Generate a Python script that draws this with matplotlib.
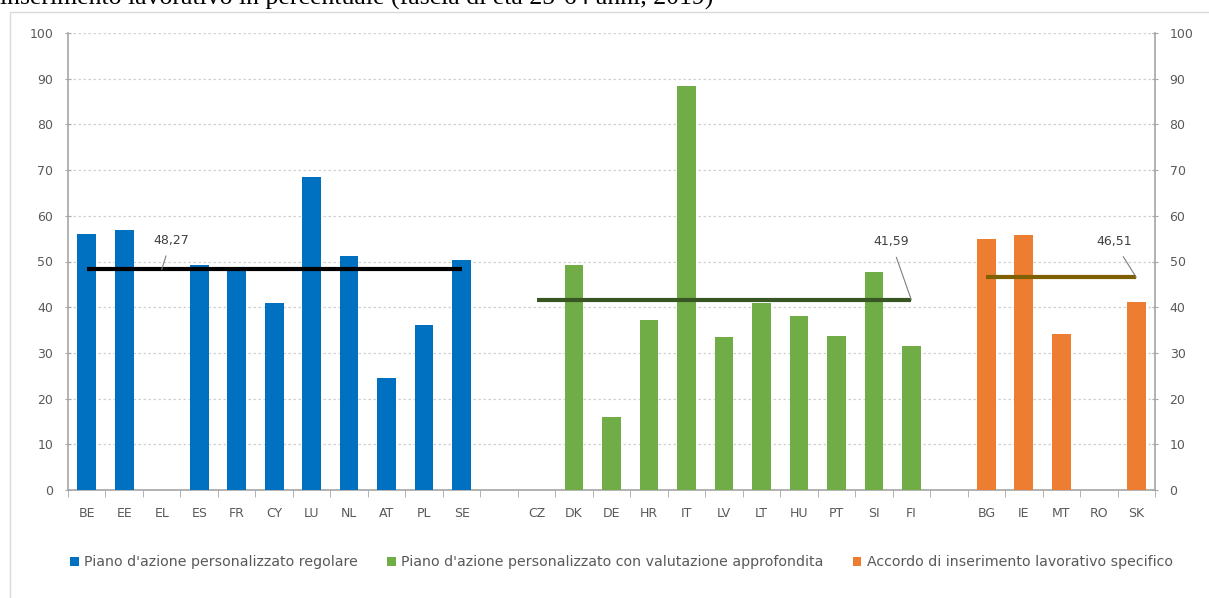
import matplotlib
matplotlib.use("Agg")
import matplotlib.pyplot as plt
from matplotlib.patches import Rectangle
import numpy as np

# ---- data ----
cats_regular = ["BE", "EE", "EL", "ES", "FR", "CY", "LU", "NL", "AT", "PL", "SE"]
vals_regular = [56.1, 57.0, None, 49.2, 48.0, 41.0, 68.5, 51.1, 24.6, 36.2, 50.3]
cats_indepth = ["CZ", "DK", "DE", "HR", "IT", "LV", "LT", "HU", "PT", "SI", "FI"]
vals_indepth = [None, 49.2, 16.0, 37.1, 88.5, 33.4, 41.0, 38.0, 33.8, 47.6, 31.5]
cats_specific = ["BG", "IE", "MT", "RO", "SK"]
vals_specific = [54.9, 55.8, 34.1, None, 41.1]
avg_regular = 48.27
avg_indepth = 41.59
avg_specific = 46.51
legend_labels = ["Piano d'azione personalizzato regolare",
                 "Piano d'azione personalizzato con valutazione approfondita",
                 "Accordo di inserimento lavorativo specifico"]
title = "inserimento lavorativo in percentuale (fascia di età 25-64 anni, 2019)"

c_blue, c_green, c_orange = "#0070c0", "#70ad47", "#ed7d31"
tick_color = "#595959"

fig = plt.figure(figsize=(12.09, 5.98), dpi=100)
fig.patches.append(Rectangle((10/1209, -0.01), 1.0, 1 - 12/598 + 0.01,
                             transform=fig.transFigure, fill=False,
                             edgecolor="#d9d9d9", linewidth=1.0))
fig.text(0.0, 1 - 5/598, title, family="Liberation Serif", fontsize=18.5,
         va="baseline", ha="left", color="black")

ax = fig.add_axes([68/1209, 1 - 490/598, (1155 - 68)/1209, (490 - 33)/598])

labels = cats_regular + [""] + cats_indepth + [""] + cats_specific
n = len(labels)
pos_r = np.arange(len(cats_regular))
pos_i = np.arange(len(cats_indepth)) + len(cats_regular) + 1
pos_s = np.arange(len(cats_specific)) + len(cats_regular) + len(cats_indepth) + 2

def bars(pos, vals, color, label):
    p = [x for x, v in zip(pos, vals) if v is not None]
    v = [v for v in vals if v is not None]
    ax.bar(p, v, width=0.5, color=color, label=label, zorder=3)

bars(pos_r, vals_regular, c_blue, legend_labels[0])
bars(pos_i, vals_indepth, c_green, legend_labels[1])
bars(pos_s, vals_specific, c_orange, legend_labels[2])

ax.plot([pos_r[0], pos_r[-1]], [avg_regular] * 2, color="black", lw=3, zorder=4,
        solid_capstyle="butt")
ax.plot([pos_i[0], pos_i[-1]], [avg_indepth] * 2, color="#375623", lw=3, zorder=4,
        solid_capstyle="butt")
ax.plot([pos_s[0], pos_s[-1]], [avg_specific] * 2, color="#7f6000", lw=3, zorder=4,
        solid_capstyle="butt")

def lab(text, xy, xytext):
    ax.annotate(text, xy=xy, xytext=xytext, textcoords="data", fontsize=9,
                color="#404040", ha="center", va="center", zorder=6,
                arrowprops=dict(arrowstyle="-", color="#7f7f7f", lw=0.8,
                                shrinkA=5, shrinkB=0))

lab("48,27", (2.0, avg_regular), (2.25, 54.7))
lab("41,59", (pos_i[-1], avg_indepth), (pos_i[-1] - 0.55, 54.4))
lab("46,51", (pos_s[-1], avg_specific), (pos_s[-1] - 0.6, 54.4))

ax.set_xlim(-0.5, n - 0.5)
ax.set_ylim(0, 100)
ax.set_yticks(np.arange(0, 101, 10))
ax.yaxis.grid(True, linestyle=(0, (2, 2)), color="#d0d0d0", lw=0.9, zorder=0)
ax.set_axisbelow(True)

ax.set_xticks(np.arange(n))
ax.set_xticklabels(labels)
ax.set_xticks(np.arange(n + 1) - 0.5, minor=True)
ax.tick_params(axis="x", which="major", length=0, pad=12, labelsize=9,
               labelcolor=tick_color)
ax.tick_params(axis="x", which="minor", length=5, color="#a6a6a6", direction="out")
ax.tick_params(axis="y", which="major", left=True, right=True, labelleft=True,
               labelright=True, length=5, color="#a6a6a6", labelsize=9,
               labelcolor=tick_color, pad=8)
ax.tick_params(axis="y", which="major", direction="inout")

for s in ["top"]:
    ax.spines[s].set_visible(False)
for s in ["left", "right", "bottom"]:
    ax.spines[s].set_color("#a6a6a6")
    ax.spines[s].set_linewidth(1.2)

leg = ax.legend(loc="center", bbox_to_anchor=(0.5 + 10/1087, -72/457), ncol=3,
                frameon=False, fontsize=10.2, handlelength=0.6, handleheight=0.6,
                handletextpad=0.4, columnspacing=2.05)
for t in leg.get_texts():
    t.set_color(tick_color)

fig.savefig("out.png", dpi=100)
